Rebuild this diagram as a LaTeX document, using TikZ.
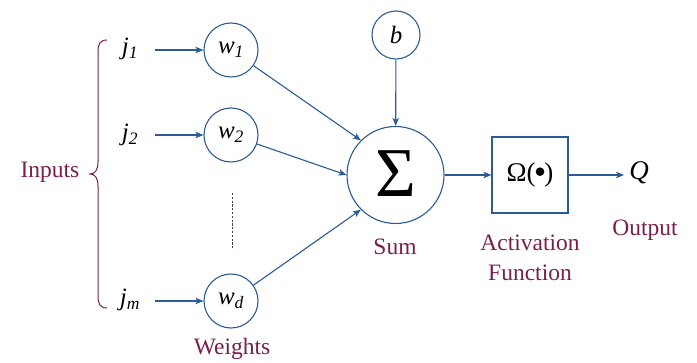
\documentclass[tikz,border=0pt]{standalone}
\usepackage{fontspec}
\setmainfont{Liberation Serif}
\usetikzlibrary{arrows.meta}
\definecolor{nblue}{HTML}{2B5A96}
\definecolor{maroon}{HTML}{7A1F4B}
\newcommand{\bigdot}{\raisebox{5.5pt}{\tikz\fill[black] (0,0) circle (4.3pt);}}
\begin{document}
\begin{tikzpicture}[x=1pt,y=1pt,
  wnode/.style={circle,draw=nblue,line width=1.1pt,minimum size=54pt,inner sep=0pt,font=\fontsize{25}{28}\selectfont\itshape},
  var/.style={inner sep=0pt,font=\fontsize{25}{28}\selectfont\itshape},
  lab/.style={text=maroon,inner sep=0pt,align=center,font=\fontsize{23.5}{30}\selectfont},
  conn/.style={draw=nblue,line width=1.1pt,-{Stealth[length=8pt,width=6.5pt,inset=2pt]}}]
\useasboundingbox (0,0) rectangle (697,-363);
\clip (0,0) rectangle (697,-363);
% inputs
\node[var] (j1) at (130,-49) {j\textsubscript{1}};
\node[var] (j2) at (130,-135) {j\textsubscript{2}};
\node[var] (jm) at (130,-300) {j\textsubscript{m}};
\coordinate (j1e) at (155,-50);
\coordinate (j2e) at (155,-135);
\coordinate (jme) at (155,-301);
% weights
\node[wnode] (w1) at (231,-50) {w\textsubscript{1}};
\node[wnode] (w2) at (231,-135) {w\textsubscript{2}};
\node[wnode] (wd) at (231,-301) {w\textsubscript{d}};
\coordinate (dtop) at (232,-193);
\coordinate (dbot) at (232,-250);
\draw[line width=1pt,black!75,dash pattern=on 2.2pt off 1.6pt] (dtop) -- (dbot);
% sum and bias
\node[circle,draw=nblue,line width=1.1pt,minimum size=97pt,inner sep=0pt,font=\fontsize{70}{74}\selectfont] (sum) at (395.5,-175) {\raisebox{2pt}{Σ}};
\node[circle,draw=nblue,line width=1.1pt,minimum size=48pt,inner sep=0pt,font=\fontsize{25}{28}\selectfont\itshape] (b) at (396,-35) {b};
% activation
\node[draw=nblue,line width=1.1pt,minimum width=76pt,minimum height=76pt,inner sep=0pt,font=\fontsize{27}{30}\selectfont] (act) at (530,-175) {Ω(\bigdot)};
\node[inner sep=5pt,font=\fontsize{27}{30}\selectfont\itshape] (Q) at (639,-173) {Q};
% connectors
\draw[conn] (j1e) -- (w1);
\draw[conn] (j2e) -- (w2);
\draw[conn] (jme) -- (wd);
\draw[conn] (w1) -- (sum.135);
\draw[conn] (w2) -- (sum.west);
\draw[conn] (wd) -- (sum.225);
\draw[conn] (b) -- (sum);
\draw[conn] (sum) -- (act);
\draw[conn] (act.east) -- (act.east -| Q.west);
% brace
\draw[maroon,line width=1pt] (107,-40) .. controls (100,-40) and (98,-44) .. (98,-52) -- (98,-162) .. controls (98,-170) and (95,-174) .. (90,-174) .. controls (95,-174) and (98,-178) .. (98,-186) -- (98,-296) .. controls (98,-304) and (100,-308) .. (107,-308);
% labels
\node[lab] (inputs) at (50,-172) {Inputs};
\node[lab] (weights) at (232,-349) {Weights};
\node[lab] (sumlab) at (395,-247) {Sum};
\node[lab] (actlab) at (530,-258) {Activation\\Function};
\node[lab] (outlab) at (645,-230) {Output};
\end{tikzpicture}
\end{document}
